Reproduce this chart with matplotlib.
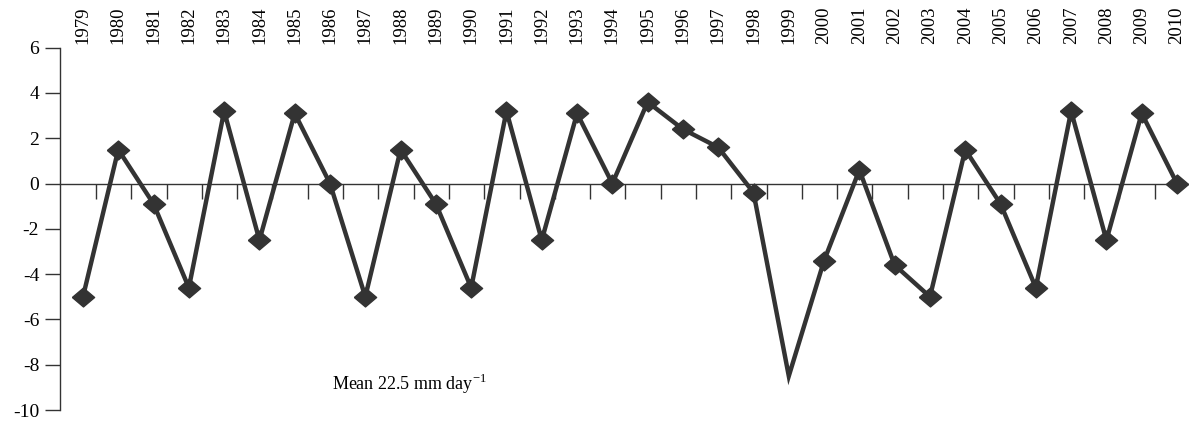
import matplotlib
matplotlib.use("Agg")
import matplotlib.pyplot as plt
import numpy as np

plt.rcParams['font.family'] = ['Liberation Serif', 'DejaVu Serif']

# anomaly values
years = list(range(1979, 2011))
anomaly = [-5.0, 1.5, -0.9, -4.6, 3.2, -2.5, 3.1, 0.0, -5.0, 1.5, -0.9, -4.6,
           3.2, -2.5, 3.1, 0.0, 3.6, 2.4, 1.6, -0.4, -8.5, -3.4, 0.6, -3.6,
           -5.0, 1.5, -0.9, -4.6, 3.2, -2.5, 3.1, 0.0]
yticks = [6, 4, 2, 0, -2, -4, -6, -8, -10]
note = "Mean 22.5 mm day$^{\\mathregular{-1}}$"

fig = plt.figure(figsize=(11.89, 4.24), dpi=100)
ax = fig.add_axes([0.0505, 0.033, 0.9495, 0.8545])

# wide diamond marker
diamond = [(-1, 0), (0, 0.85), (1, 0), (0, -0.85), (-1, 0)]
marks = [i for i in range(len(years)) if i != 20]  # lowest point is cut off in the original
ax.plot(years, anomaly, color="#333333", lw=3.2, marker=diamond, ms=16,
        markevery=marks, solid_joinstyle="miter", zorder=3)

ax.set_xlim(1978.35, 2010.34)
ax.set_ylim(-10, 6)

# x axis line through zero, ticks hanging below it
ax.spines['top'].set_visible(False)
ax.spines['right'].set_visible(False)
ax.spines['bottom'].set_position(('data', 0))
ax.spines['bottom'].set_color("#333333")
ax.spines['bottom'].set_linewidth(1.0)
ax.spines['left'].set_color("#333333")
ax.spines['left'].set_linewidth(1.0)
ax.set_xticks([y + 0.37 for y in years[:-1]])
ax.tick_params(axis='x', direction='out', length=11, width=1.0, color="#333333",
               labelbottom=False)

ax.set_yticks(yticks)
ax.set_yticklabels([str(v) for v in yticks])
ax.tick_params(axis='y', direction='out', length=11, width=1.0, color="#333333",
               labelsize=14, pad=4)

# year labels along the top
top = ax.secondary_xaxis('top')
top.set_xticks(years)
top.set_xticklabels([str(y) for y in years], rotation=90, fontsize=13.5)
top.tick_params(length=0, pad=3)
top.spines['top'].set_visible(False)

ax.text(1986.05, -8.85, note, fontsize=13, va='center', ha='left')

fig.savefig("out.png", dpi=100)
